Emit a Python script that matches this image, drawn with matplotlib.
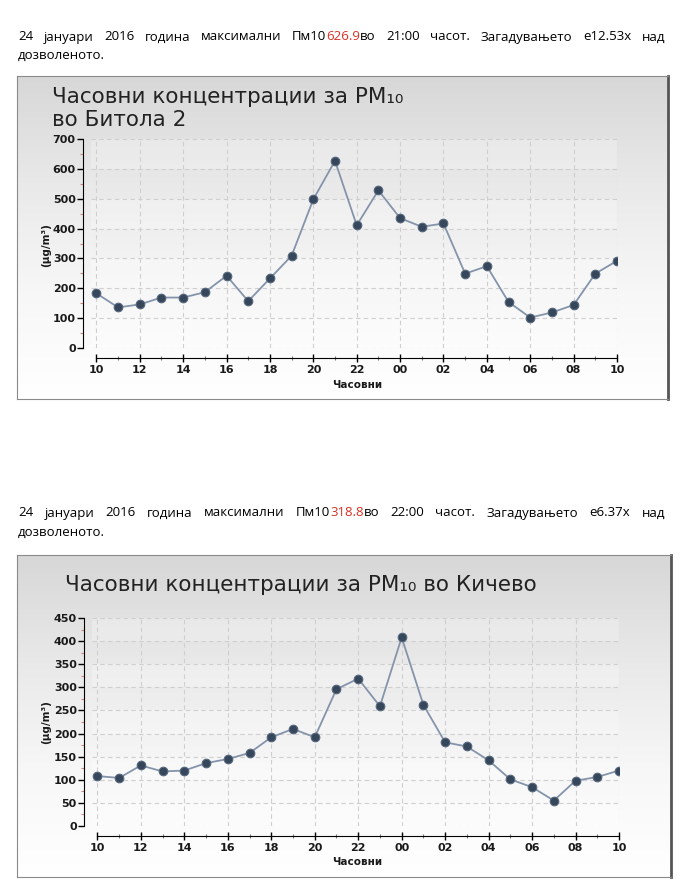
import numpy as np
import matplotlib.pyplot as plt
from matplotlib.colors import LinearSegmentedColormap
from matplotlib.ticker import MultipleLocator

W, H = 690, 890

# --- data ---
hour_labels = ["10", "11", "12", "13", "14", "15", "16", "17", "18", "19", "20", "21", "22",
               "23", "00", "01", "02", "03", "04", "05", "06", "07", "08", "09", "10"]
bitola = [183, 136, 146, 169, 169, 187, 242, 157, 233, 309, 498, 627, 411,
          528, 435, 406, 417, 249, 274, 154, 102, 119, 144, 249, 292]
kicevo = [108, 104, 131, 118, 120, 136, 145, 158, 192, 210, 192, 296, 318.8,
          259, 408, 262, 181, 172, 142, 101, 84, 55, 98, 106, 120]

line1_words = [[("24", "black")], [("јануари", "black")], [("2016", "black")], [("година", "black")],
               [("максимални", "black")], [("Пм10", "black"), ("626.9", "#d93025"), ("во", "black")],
               [("21:00", "black")], [("часот.", "black")], [("Загадувањето", "black")],
               [("е12.53x", "black")], [("над", "black")]]
line2_words = [[("24", "black")], [("јануари", "black")], [("2016", "black")], [("година", "black")],
               [("максимални", "black")], [("Пм10", "black"), ("318.8", "#d93025"), ("во", "black")],
               [("22:00", "black")], [("часот.", "black")], [("Загадувањето", "black")],
               [("е6.37x", "black")], [("над", "black")]]

fig = plt.figure(figsize=(W / 100, H / 100), dpi=100)
fig.patch.set_facecolor("white")
renderer = fig.canvas.get_renderer()

body_font = dict(family=["Open Sans", "DejaVu Sans"], fontsize=9.5)


def px(x, y):
    return x / W, 1 - y / H


def justified(words, x0, x1, y):
    # measure each word, then spread the gaps to fill x0..x1
    widths = []
    for word in words:
        w = 0
        for s, c in word:
            t = fig.text(0, 0, s, **body_font)
            w += t.get_window_extent(renderer).width
            t.remove()
        widths.append(w)
    gap = (x1 - x0 - sum(widths)) / (len(words) - 1)
    x = x0
    for word, w in zip(words, widths):
        xx = x
        for s, c in word:
            t = fig.text(*px(xx, y), s, color=c, va="center", ha="left", **body_font)
            xx += t.get_window_extent(renderer).width
        x += w + gap


def chart(frame, axrect, values, ymax, ystep, title_lines, ylab_y, xlab_y):
    fl, ft, fr, fb = frame
    bg = fig.add_axes([fl / W, 1 - fb / H, (fr - fl) / W, (fb - ft) / H], zorder=0)
    cmap = LinearSegmentedColormap.from_list("bg", ["#d7d7d7", "#e9e9e9", "#f7f7f7", "#ffffff"])
    grad = np.linspace(0, 1, 256).reshape(-1, 1)
    bg.imshow(grad, aspect="auto", cmap=cmap, extent=[0, 1, 0, 1], origin="upper")
    bg.set_xticks([])
    bg.set_yticks([])
    for side in ["left", "top", "bottom"]:
        bg.spines[side].set_color("#8a8a8a")
    bg.spines["right"].set_color("#555555")
    bg.spines["right"].set_linewidth(2)

    al, at, ar, ab = axrect
    ax = fig.add_axes([al / W, 1 - ab / H, (ar - al) / W, (ab - at) / H], zorder=1)
    ax.set_facecolor("none")
    x = np.arange(len(values))
    ax.plot(x, values, color="#8494ab", lw=1.3, zorder=3)
    ax.plot(x, values, "o", ms=6.2, mfc="#36475c", mec="#56677d", mew=0.8, zorder=4)

    ax.set_xlim(-0.25, 24)
    ax.set_ylim(0, ymax)
    for s in ["top", "right"]:
        ax.spines[s].set_visible(False)
    ax.spines["left"].set_position(("outward", 6))
    ax.spines["bottom"].set_position(("outward", 7))
    ax.spines["left"].set_bounds(0, ymax)
    ax.spines["bottom"].set_bounds(0, 24)

    ax.set_xticks(x[::2])
    ax.set_xticklabels(hour_labels[::2])
    ax.xaxis.set_minor_locator(MultipleLocator(1))
    ax.yaxis.set_major_locator(MultipleLocator(ystep))
    ax.yaxis.set_minor_locator(MultipleLocator(ystep / 2))
    ax.tick_params(axis="x", which="major", direction="inout", length=6, width=1, pad=2,
                   labelsize=8)
    ax.tick_params(axis="x", which="minor", direction="inout", length=3, width=0.8,
                   color="#777777")
    ax.tick_params(axis="y", which="major", direction="out", length=4, width=1, pad=1,
                   labelsize=8)
    ax.tick_params(axis="y", which="minor", direction="out", length=2, width=0.8,
                   color="#d98080")
    for lab in ax.get_xticklabels() + ax.get_yticklabels():
        lab.set_fontweight("bold")
        lab.set_color("#1a1a1a")

    ax.grid(True, which="major", color="#cfcfcf", ls=(0, (4, 3)), lw=0.8)
    ax.set_axisbelow(True)
    # faint horizontal bands
    for y0 in np.arange(0, ymax, ystep * 2):
        ax.axhspan(y0, y0 + ystep, color="white", alpha=0.25, lw=0, zorder=0)

    for txt, (tx, ty) in title_lines:
        fig.text(*px(tx, ty), txt, fontsize=15.5, color="#222222", va="center", ha="left")
    fig.text(*px(46, ylab_y), "(µg/m³)", rotation=90, fontsize=7.5, fontweight="bold",
             va="center", ha="center", color="#1a1a1a")
    fig.text(*px(357, xlab_y), "Часовни", fontsize=7.5, fontweight="bold",
             va="center", ha="center", color="#1a1a1a")
    return ax


justified(line1_words, 18, 665, 37)
fig.text(*px(18, 55), "дозволеното.", va="center", ha="left", **body_font)
justified(line2_words, 18, 665, 513)
fig.text(*px(18, 532), "дозволеното.", va="center", ha="left", **body_font)

chart((17, 76, 668, 399), (91, 139, 617, 348), bitola, 700, 100,
      [("Часовни концентрации за PM₁₀", (52, 97)), ("во Битола 2", (52, 120))], 245, 385)
chart((17, 555, 671, 877), (92, 618, 619, 826), kicevo, 450, 50,
      [("Часовни концентрации за PM₁₀ во Кичево", (65, 585))], 722, 862)

fig.savefig("out.png", dpi=100)
